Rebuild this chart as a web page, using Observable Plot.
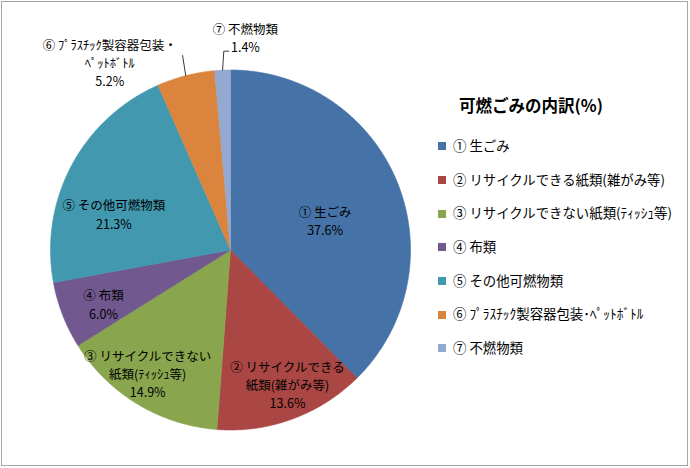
<!DOCTYPE html>
<html><head><meta charset="utf-8">
<script src="https://cdn.jsdelivr.net/npm/d3@7"></script>
<script src="https://cdn.jsdelivr.net/npm/@observablehq/plot@0.6"></script>
<style>
body{margin:0;background:#fff;font-family:"Noto Sans CJK JP","Noto Sans",sans-serif;color:#000;}
#wrap{position:relative;width:690px;height:468px;overflow:hidden;background:#fff;}
#frame{position:absolute;left:1px;top:1px;width:685px;height:463px;border:1px solid #a6a6a6;pointer-events:none;}
#chart{position:absolute;left:0;top:0;}
#legend-title{position:absolute;left:459px;top:93px;font-size:16.5px;font-weight:bold;line-height:24px;white-space:nowrap;}
.lg-row{position:absolute;left:438px;height:18px;line-height:18px;font-size:13.4px;white-space:nowrap;}
.lg-sw{display:inline-block;width:8px;height:8px;vertical-align:middle;margin-right:7px;position:relative;top:-1px;}
</style>
</head><body>
<div id="wrap"><div id="chart"></div><div id="frame"></div></div>
<script>
// ---- data ----
const categories = ["① 生ごみ", "② リサイクルできる紙類(雑がみ等)", "③ リサイクルできない紙類(ﾃｨｯｼｭ等)", "④ 布類", "⑤ その他可燃物類", "⑥ ﾌﾟﾗｽﾁｯｸ製容器包装･ﾍﾟｯﾄﾎﾞﾄﾙ", "⑦ 不燃物類"];
const pieLabels = ["① 生ごみ", "② リサイクルできる\n紙類(雑がみ等)", "③ リサイクルできない\n紙類(ﾃｨｯｼｭ等)", "④ 布類", "⑤ その他可燃物類", "⑥ ﾌﾟﾗｽﾁｯｸ製容器包装・\nﾍﾟｯﾄﾎﾞﾄﾙ", "⑦ 不燃物類"];
const values = [37.6, 13.6, 14.9, 6.0, 21.3, 5.2, 1.4];
const colors = ["#4572A7", "#AA4643", "#89A54E", "#71588F", "#4198AF", "#DB843D", "#93A9CF"];
const title = "可燃ごみの内訳(%)";

// ---- label layout (style, not data) ----
const labelR = [0.55, 0.806, 0.825, 0.766, 0.67, 1.2, 1.2];
const labelNudgePx = [[3, 8], [7, -2], [-6, -4], [1.5, 3.6], [-10, 20], [-67, 21.5], [24.4, 2.8]];
const outside = [false, false, false, false, false, true, true];
const R_PX = 180;

const arcs = d3.pie().sort(null).value(d => d)(values);
const slicePts = [];
arcs.forEach((a, i) => {
  const cat = categories[i];
  slicePts.push({cat, x: 0, y: 0});
  const n = Math.max(2, Math.ceil((a.endAngle - a.startAngle) / (Math.PI / 360)));
  for (let k = 0; k <= n; k++) {
    const t = a.startAngle + (a.endAngle - a.startAngle) * k / n;
    slicePts.push({cat, x: Math.sin(t), y: Math.cos(t)});
  }
  slicePts.push({cat, x: 0, y: 0});
});

const labelData = arcs.map((a, i) => {
  const m = (a.startAngle + a.endAngle) / 2;
  return {
    cat: categories[i],
    x: labelR[i] * Math.sin(m) + labelNudgePx[i][0] / R_PX,
    y: labelR[i] * Math.cos(m) - labelNudgePx[i][1] / R_PX,
    t: pieLabels[i] + "\n" + values[i].toFixed(1) + "%"
  };
});

const leaderPts = [];
arcs.forEach((a, i) => {
  if (!outside[i]) return;
  const m = (a.startAngle + a.endAngle) / 2;
  const cat = categories[i];
  if (i === 5) {
    leaderPts.push({cat, x: Math.sin(m), y: Math.cos(m)});
    leaderPts.push({cat, x: 1.115 * Math.sin(m) + 2 / R_PX, y: 1.115 * Math.cos(m)});
  } else {
    leaderPts.push({cat, x: Math.sin(m), y: Math.cos(m)});
    const ex = 1.1 * Math.sin(m) + 2 / R_PX, ey = 1.1 * Math.cos(m) + 1 / R_PX;
    leaderPts.push({cat, x: ex, y: ey});
    leaderPts.push({cat, x: ex + 5 / R_PX, y: ey});
  }
});

const chart = Plot.plot({
  width: 690, height: 468,
  margin: 0,
  x: {domain: [-1, 1], range: [230 - R_PX, 230 + R_PX], axis: null},
  y: {domain: [-1, 1], range: [249.5 + R_PX, 249.5 - R_PX], axis: null},
  color: {domain: categories, range: colors},
  style: {fontFamily: '"Noto Sans CJK JP", "Noto Sans", sans-serif', background: "#fff", overflow: "visible"},
  marks: [
    Plot.line(slicePts, {x: "x", y: "y", z: "cat", fill: "cat", stroke: "cat", strokeWidth: 0.6, curve: "linear"}),
    Plot.line(leaderPts, {x: "x", y: "y", z: "cat", stroke: "#3a3a3a", strokeWidth: 1}),
    Plot.text(labelData, {x: "x", y: "y", text: "t", fontSize: 12.5, lineHeight: 1.46, fill: "#000", textAnchor: "middle"})
  ]
});
document.getElementById("chart").appendChild(chart);

// legend
const color = chart.scale("color");
const wrap = document.getElementById("wrap");
const tdiv = document.createElement("div");
tdiv.id = "legend-title";
tdiv.textContent = title;
wrap.appendChild(tdiv);
categories.forEach((c, i) => {
  const row = document.createElement("div");
  row.className = "lg-row";
  row.style.top = (145 + i * 33.67 - 9) + "px";
  const sw = document.createElement("span");
  sw.className = "lg-sw";
  sw.style.background = color.apply(c);
  row.appendChild(sw);
  row.appendChild(document.createTextNode(c));
  wrap.appendChild(row);
});
</script>
</body></html>
